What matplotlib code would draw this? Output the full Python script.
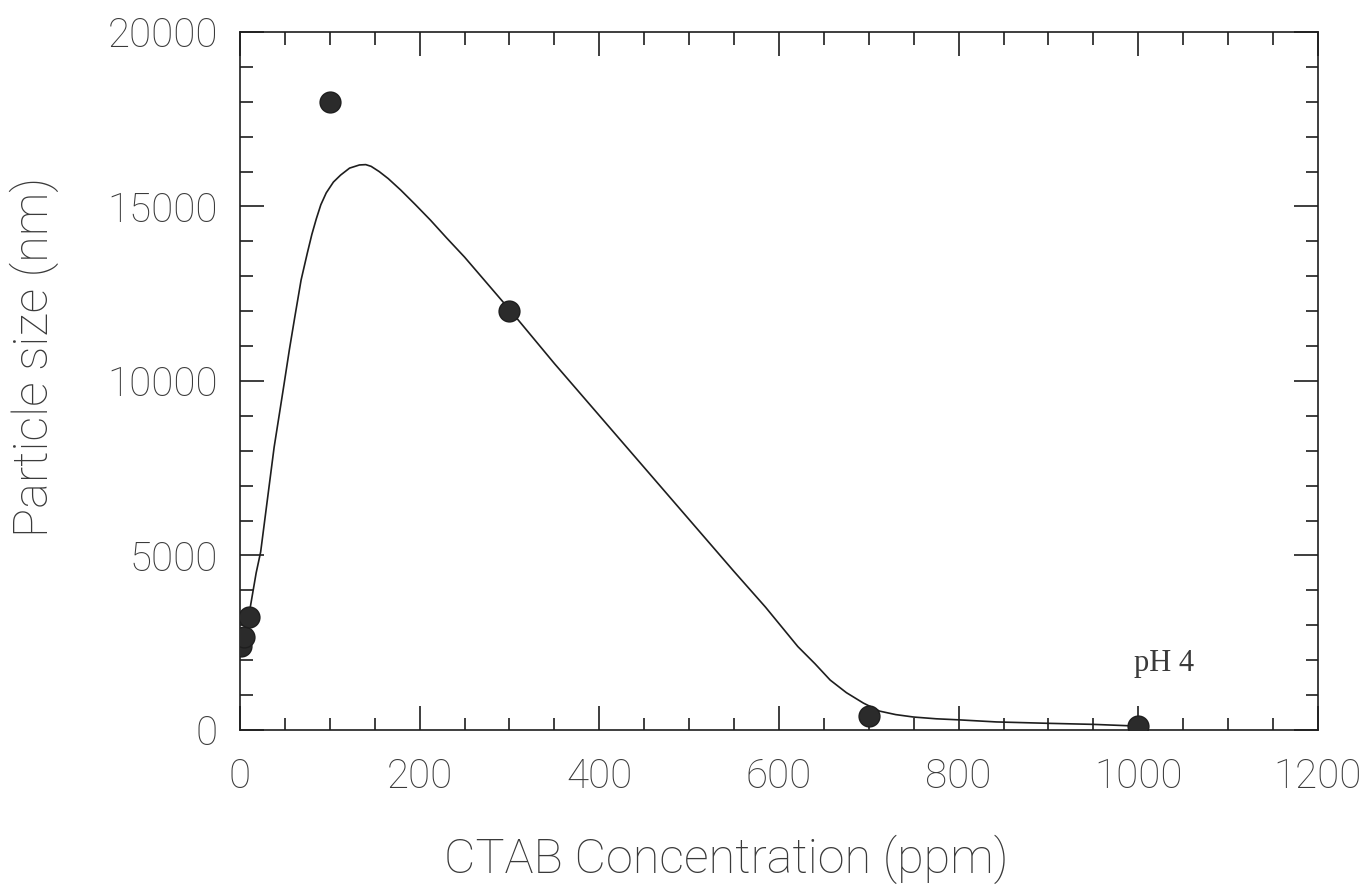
import numpy as np
import matplotlib
matplotlib.use("Agg")
import matplotlib.pyplot as plt
from matplotlib.ticker import MultipleLocator

# measured points (CTAB ppm, particle size nm)
conc = [1, 5, 10, 100, 300, 700, 1000]
size = [2400, 2650, 3250, 18000, 12000, 400, 100]

# fitted curve
curve_x = [10, 14, 18, 23, 28, 33, 38, 44, 49, 55, 61, 68, 75, 80, 85, 90, 96, 104, 112,
           122, 133, 140, 146, 155, 165, 179, 195, 212, 230, 250, 275, 300, 350, 400,
           450, 500, 550, 585, 621, 640, 657, 675, 694, 712, 730, 750, 775, 800, 842,
           900, 950, 1000]
curve_y = [3300, 3900, 4500, 5100, 6100, 7100, 8100, 9080, 9900, 10900, 11830, 12890,
           13670, 14200, 14650, 15050, 15390, 15700, 15900, 16100, 16190, 16200, 16150,
           16000, 15800, 15470, 15060, 14610, 14100, 13550, 12800, 12050, 10500, 9010,
           7520, 6030, 4540, 3520, 2390, 1900, 1430, 1070, 770, 540, 440, 370, 320, 290,
           230, 190, 160, 110]

plt.rcParams['font.family'] = ['Roboto', 'DejaVu Sans']
plt.rcParams['font.weight'] = 'light'
plt.rcParams['axes.labelweight'] = 'light'

fig = plt.figure(figsize=(13.69, 8.89), dpi=100)
ax = fig.add_axes([0.1753, 0.1789, 0.9627 - 0.1753, 0.964 - 0.1789])

ink = "#1e1e1e"
txt = "#3a3a3a"
ax.plot(curve_x, curve_y, color=ink, lw=1.2)
ax.plot(conc, size, "o", color="#2b2b2b", ms=15, mec=ink, zorder=3)

ax.set_xlim(0, 1200)
ax.set_ylim(0, 20000)
ax.xaxis.set_major_locator(MultipleLocator(200))
ax.xaxis.set_minor_locator(MultipleLocator(50))
ax.yaxis.set_major_locator(MultipleLocator(5000))
ax.yaxis.set_minor_locator(MultipleLocator(1000))
ax.tick_params(which="both", direction="in", top=True, right=True, width=1.2, color=ink)
ax.tick_params(which="major", length=17, labelsize=29, labelcolor=txt)
ax.tick_params(which="minor", length=9)
ax.tick_params(axis="x", which="major", pad=20)
ax.tick_params(axis="y", which="major", pad=16)
for s in ax.spines.values():
    s.set_linewidth(1.2)
    s.set_color(ink)

ax.set_xlabel("CTAB Concentration (ppm)", fontsize=35, color=txt, fontweight="light")
ax.set_ylabel("Particle size (nm)", fontsize=35, color=txt, fontweight="light")
ax.xaxis.set_label_coords(0.451, -0.150)
ax.yaxis.set_label_coords(-0.168, 0.534)

ax.text(1029, 1900, "pH 4", family=["Liberation Serif", "DejaVu Serif"], fontsize=22,
        fontweight="normal", ha="center", va="center", color=txt)

fig.savefig("out.png", dpi=100)
